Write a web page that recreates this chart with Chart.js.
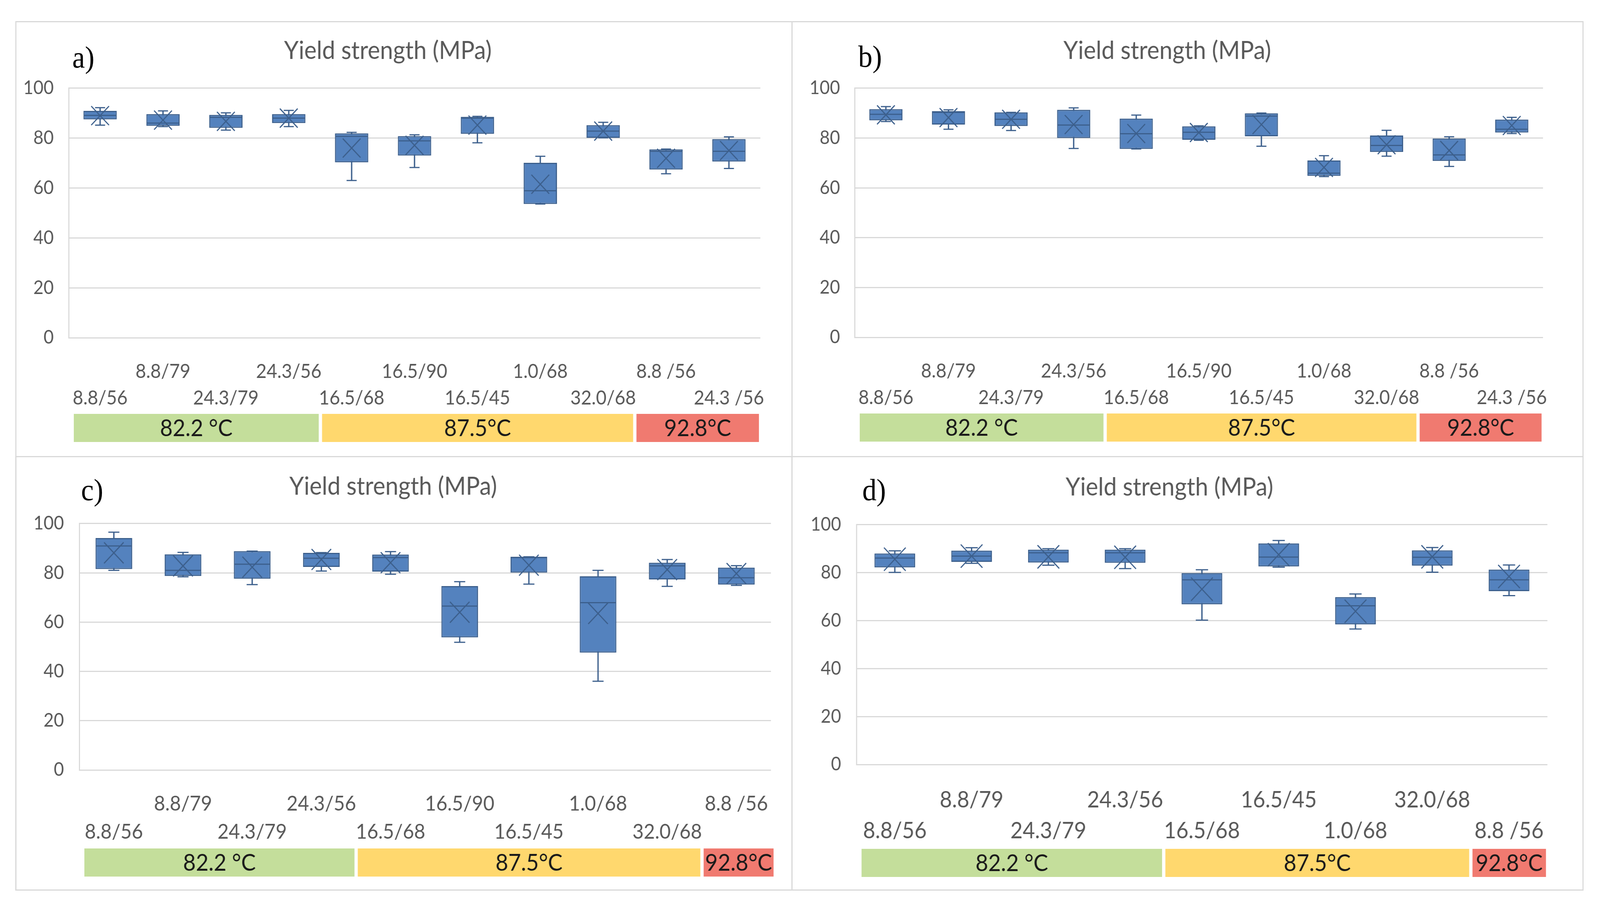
<!DOCTYPE html>
<html>
<head>
<meta charset="utf-8">
<script src="https://cdn.jsdelivr.net/npm/chart.js@4"></script>
<style>
  html, body { margin: 0; background: #fff; overflow: hidden; }
  #page { position: absolute; left: 0; top: 0; width: 4381px; height: 2346px; transform-origin: 0 0; background: #fff; }
  .panel { position: absolute; box-shadow: inset 0 0 0 3px #d9d9d9; }
  .panel canvas { position: absolute; left: 0; top: 0; }
  .tag { position: absolute; font-family: "Liberation Serif", serif; font-size: 78px; line-height: 1; color: #000; }
</style>
</head>
<body>
<div id="page">
<div class="panel" style="left:42px;top:54px;width:2128px;height:1117px"><canvas id="ca" width="2128" height="1117"></canvas><div class="tag" style="left:156px;top:54px">a)</div></div>
<div class="panel" style="left:2167px;top:54px;width:2169px;height:1117px"><canvas id="cb" width="2169" height="1117"></canvas><div class="tag" style="left:183px;top:52px">b)</div></div>
<div class="panel" style="left:42px;top:1168px;width:2128px;height:1113px"><canvas id="cc" width="2128" height="1113"></canvas><div class="tag" style="left:180px;top:48px">c)</div></div>
<div class="panel" style="left:2167px;top:1168px;width:2169px;height:1113px"><canvas id="cd" width="2169" height="1113"></canvas><div class="tag" style="left:194px;top:48px">d)</div></div>
</div>
<script>
// categories (crosshead / temperature)
const labelsAB = ["8.8/56", "8.8/79", "24.3/79", "24.3/56", "16.5/68", "16.5/90", "16.5/45", "1.0/68", "32.0/68", "8.8 /56", "24.3 /56"];
const labelsC = ["8.8/56", "8.8/79", "24.3/79", "24.3/56", "16.5/68", "16.5/90", "16.5/45", "1.0/68", "32.0/68", "8.8 /56"];
const labelsD = ["8.8/56", "8.8/79", "24.3/79", "24.3/56", "16.5/68", "16.5/45", "1.0/68", "32.0/68", "8.8 /56"];

// temperature groups
const groupNames = ["82.2 °C", "87.5°C", "92.8°C"];
const groupColors = ["#c4de9b", "#ffd86e", "#f07a70"];
const groupEndAB = [3, 8, 10];
const groupEndC = [3, 8, 9];
const groupEndD = [3, 7, 8];

// a)
const minA = [85.2, 84.6, 83.2, 84.6, 63.0, 68.2, 78.1, 53.6, 80.1, 65.7, 67.8];
const q1A = [87.5, 84.9, 84.1, 86.0, 70.3, 73.0, 81.7, 53.6, 80.1, 67.4, 70.6];
const medA = [89.1, 86.0, 88.3, 88.0, 80.7, 78.9, 88.0, 58.9, 82.8, 74.7, 74.7];
const q3A = [90.9, 89.6, 89.3, 89.6, 81.9, 80.8, 88.5, 70.1, 85.2, 75.5, 79.6];
const maxA = [92.2, 90.9, 90.1, 91.1, 82.3, 81.3, 88.7, 72.7, 86.3, 75.6, 80.5];
const meanA = [89.0, 87.2, 86.7, 88.0, 76.0, 77.1, 85.2, 61.5, 82.8, 71.9, 75.0];

// b)
const minB = [86.6, 83.5, 83.0, 75.8, 75.6, 79.1, 76.7, 64.5, 72.7, 68.6, 81.8];
const q1B = [87.1, 85.4, 84.8, 80.0, 75.6, 79.3, 80.7, 64.8, 74.4, 70.8, 82.2];
const medB = [89.5, 90.3, 87.5, 85.2, 81.7, 82.3, 88.8, 65.9, 77.0, 73.2, 83.5];
const q3B = [91.6, 90.8, 90.3, 91.3, 87.8, 84.7, 89.9, 71.0, 81.0, 79.8, 87.4];
const maxB = [92.6, 91.3, 90.3, 92.1, 89.2, 84.9, 90.0, 72.9, 83.1, 80.5, 88.3];
const meanB = [89.3, 88.2, 87.5, 85.4, 81.8, 82.2, 85.4, 68.2, 77.3, 75.0, 85.0];

// c)
const minC = [81.0, 78.4, 75.2, 80.7, 79.4, 51.8, 75.4, 36.0, 74.5, 74.9];
const q1C = [81.5, 78.7, 77.6, 82.4, 80.5, 53.8, 80.1, 47.6, 77.3, 75.2];
const medC = [90.9, 81.0, 83.5, 85.9, 86.2, 66.5, 86.2, 67.9, 82.8, 78.0];
const q3C = [94.1, 87.5, 88.8, 88.1, 87.4, 74.6, 86.5, 78.6, 84.1, 82.1];
const maxC = [96.5, 88.3, 88.8, 88.2, 88.6, 76.4, 86.5, 81.0, 85.4, 82.9];
const meanC = [88.1, 82.8, 82.3, 85.4, 84.1, 64.0, 83.1, 63.5, 81.3, 79.7];

// d)
const minD = [80.1, 83.9, 83.1, 81.7, 60.2, 82.3, 56.5, 80.2, 70.4];
const q1D = [82.2, 84.5, 84.2, 84.1, 66.8, 82.6, 58.4, 82.9, 72.3];
const medD = [86.1, 86.9, 88.3, 88.3, 77.0, 86.5, 66.2, 86.4, 77.0];
const q3D = [88.0, 89.2, 89.6, 89.6, 79.8, 92.2, 69.8, 89.3, 81.3];
const maxD = [89.1, 90.4, 90.0, 90.0, 81.2, 93.4, 71.1, 90.5, 83.2];
const meanD = [85.6, 86.9, 86.6, 86.4, 73.1, 87.5, 63.9, 86.6, 78.4];

const boxFill = "#5482be";
const boxLine = "#3c5f8c";

// the page is laid out in reference pixels, stretch it over the window
const fitX = window.innerWidth / 4381;
const fitY = window.innerHeight / 2346;
if (Math.abs(fitX - 1) > 0.001 || Math.abs(fitY - 1) > 0.001) {
  document.getElementById("page").style.transform = "scale(" + fitX + "," + fitY + ")";
}

const catW = (chart) => chart.scales.x.width / chart.data.labels.length;

// coloured temperature cells under the axis
const bandPlugin = {
  id: "bands",
  afterDraw(chart, args, opts) {
    const x = chart.scales.x;
    const ctx = chart.ctx;
    const top = x.bottom + 14, h = 72;
    ctx.save();
    ctx.font = "60px Lato";
    opts.ends.forEach((end, g) => {
      const start = g === 0 ? 0 : opts.ends[g - 1] + 1;
      const left = x.getPixelForValue(start - 0.5) + (g === 0 ? 14 : 5);
      let right = x.getPixelForValue(end + 0.5) - 4;
      const tw = ctx.measureText(groupNames[g]).width;
      if (right - left < tw + 8) right = left + tw + 8;
      ctx.fillStyle = groupColors[g];
      ctx.fillRect(left, top, right - left, h);
      ctx.fillStyle = "#1a1a1a";
      ctx.textAlign = "center";
      ctx.textBaseline = "middle";
      ctx.fillText(groupNames[g], (left + right) / 2, top + h / 2 + 2);
    });
    ctx.restore();
  }
};

function makeChart(id, labels, mins, q1s, meds, q3s, maxs, means, ends, lay) {
  // stagger the category labels on two rows
  const tickLabels = labels.map((l, i) => (i % 2 ? [l, ""] : ["", l]));
  const lh = Math.round(lay.xFont * 1.36);
  return new Chart(document.getElementById(id), {
    type: "bar",
    data: {
      labels: tickLabels,
      datasets: [
        {
          type: "bar",
          data: labels.map((_, i) => [mins[i], maxs[i]]),
          backgroundColor: boxLine,
          barThickness: 3,
          grouped: false,
          order: 4,
        },
        {
          type: "bar",
          data: labels.map((_, i) => [q1s[i], q3s[i]]),
          backgroundColor: boxFill,
          borderColor: boxLine,
          borderWidth: 3,
          borderSkipped: false,
          barPercentage: 0.53,
          categoryPercentage: 1,
          grouped: false,
          order: 3,
        },
        {
          type: "line",
          data: mins,
          showLine: false,
          pointStyle: "line",
          pointRadius: (c) => catW(c.chart) * 0.08,
          borderColor: boxLine,
          pointBorderWidth: 3,
          order: 1,
        },
        {
          type: "line",
          data: maxs,
          showLine: false,
          pointStyle: "line",
          pointRadius: (c) => catW(c.chart) * 0.08,
          borderColor: boxLine,
          pointBorderWidth: 3,
          order: 1,
        },
        {
          type: "line",
          data: meds,
          showLine: false,
          pointStyle: "line",
          pointRadius: (c) => catW(c.chart) * 0.265 - 2,
          borderColor: boxLine,
          pointBorderWidth: 3,
          order: 1,
        },
        {
          type: "line",
          data: means,
          showLine: false,
          pointStyle: "crossRot",
          pointRadius: (c) => catW(c.chart) * 0.2,
          borderColor: boxLine,
          pointBorderWidth: 3,
          order: 1,
        },
      ],
    },
    options: {
      responsive: false,
      devicePixelRatio: 1,
      animation: false,
      events: [],
      layout: { padding: { left: 0, right: lay.padRight, top: 0, bottom: lay.padBottom } },
      scales: {
        x: {
          grid: { display: false },
          border: { display: false },
          ticks: {
            autoSkip: false,
            maxRotation: 0,
            minRotation: 0,
            padding: lay.xPad,
            color: "#595959",
            font: { family: "Lato", size: lay.xFont, lineHeight: lh + "px" },
          },
          afterFit: (s) => { s.height = lay.xPad + 2 * lh; },
        },
        y: {
          min: 0,
          max: 100,
          ticks: {
            stepSize: 20,
            padding: lay.yPad,
            color: "#595959",
            font: { family: "Lato", size: 48 },
          },
          grid: { color: "#d9d9d9", lineWidth: 3, drawTicks: false },
          border: { display: true, color: "#d9d9d9", width: 3 },
          afterFit: (s) => { s.width = lay.plotLeft; },
        },
      },
      plugins: {
        legend: { display: false },
        tooltip: { enabled: false },
        title: {
          display: true,
          text: "Yield strength (MPa)",
          color: "#595959",
          font: { family: "Lato", size: 64, weight: "normal" },
          padding: { top: lay.titleTop, bottom: lay.titleBottom },
        },
        bands: { ends: ends },
      },
    },
    plugins: [bandPlugin],
  });
}

makeChart("ca", labelsAB, minA, q1A, medA, q3A, maxA, meanA, groupEndAB,
  { plotLeft: 146, yPad: 41, padRight: 88, titleTop: 38, titleBottom: 57, xFont: 50, xPad: 45, padBottom: 125 });
makeChart("cb", labelsAB, minB, q1B, medB, q3B, maxB, meanB, groupEndAB,
  { plotLeft: 173, yPad: 40, padRight: 111, titleTop: 38, titleBottom: 57, xFont: 50, xPad: 45, padBottom: 126 });
makeChart("cc", labelsC, minC, q1C, medC, q3C, maxC, meanC, groupEndC,
  { plotLeft: 175, yPad: 42, padRight: 59, titleTop: 40, titleBottom: 56, xFont: 53, xPad: 43, padBottom: 122 });
makeChart("cd", labelsD, minD, q1D, medD, q3D, maxD, meanD, groupEndD,
  { plotLeft: 178, yPad: 42, padRight: 99, titleTop: 42, titleBottom: 57, xFont: 58, xPad: 44, padBottom: 121 });
</script>
</body>
</html>
